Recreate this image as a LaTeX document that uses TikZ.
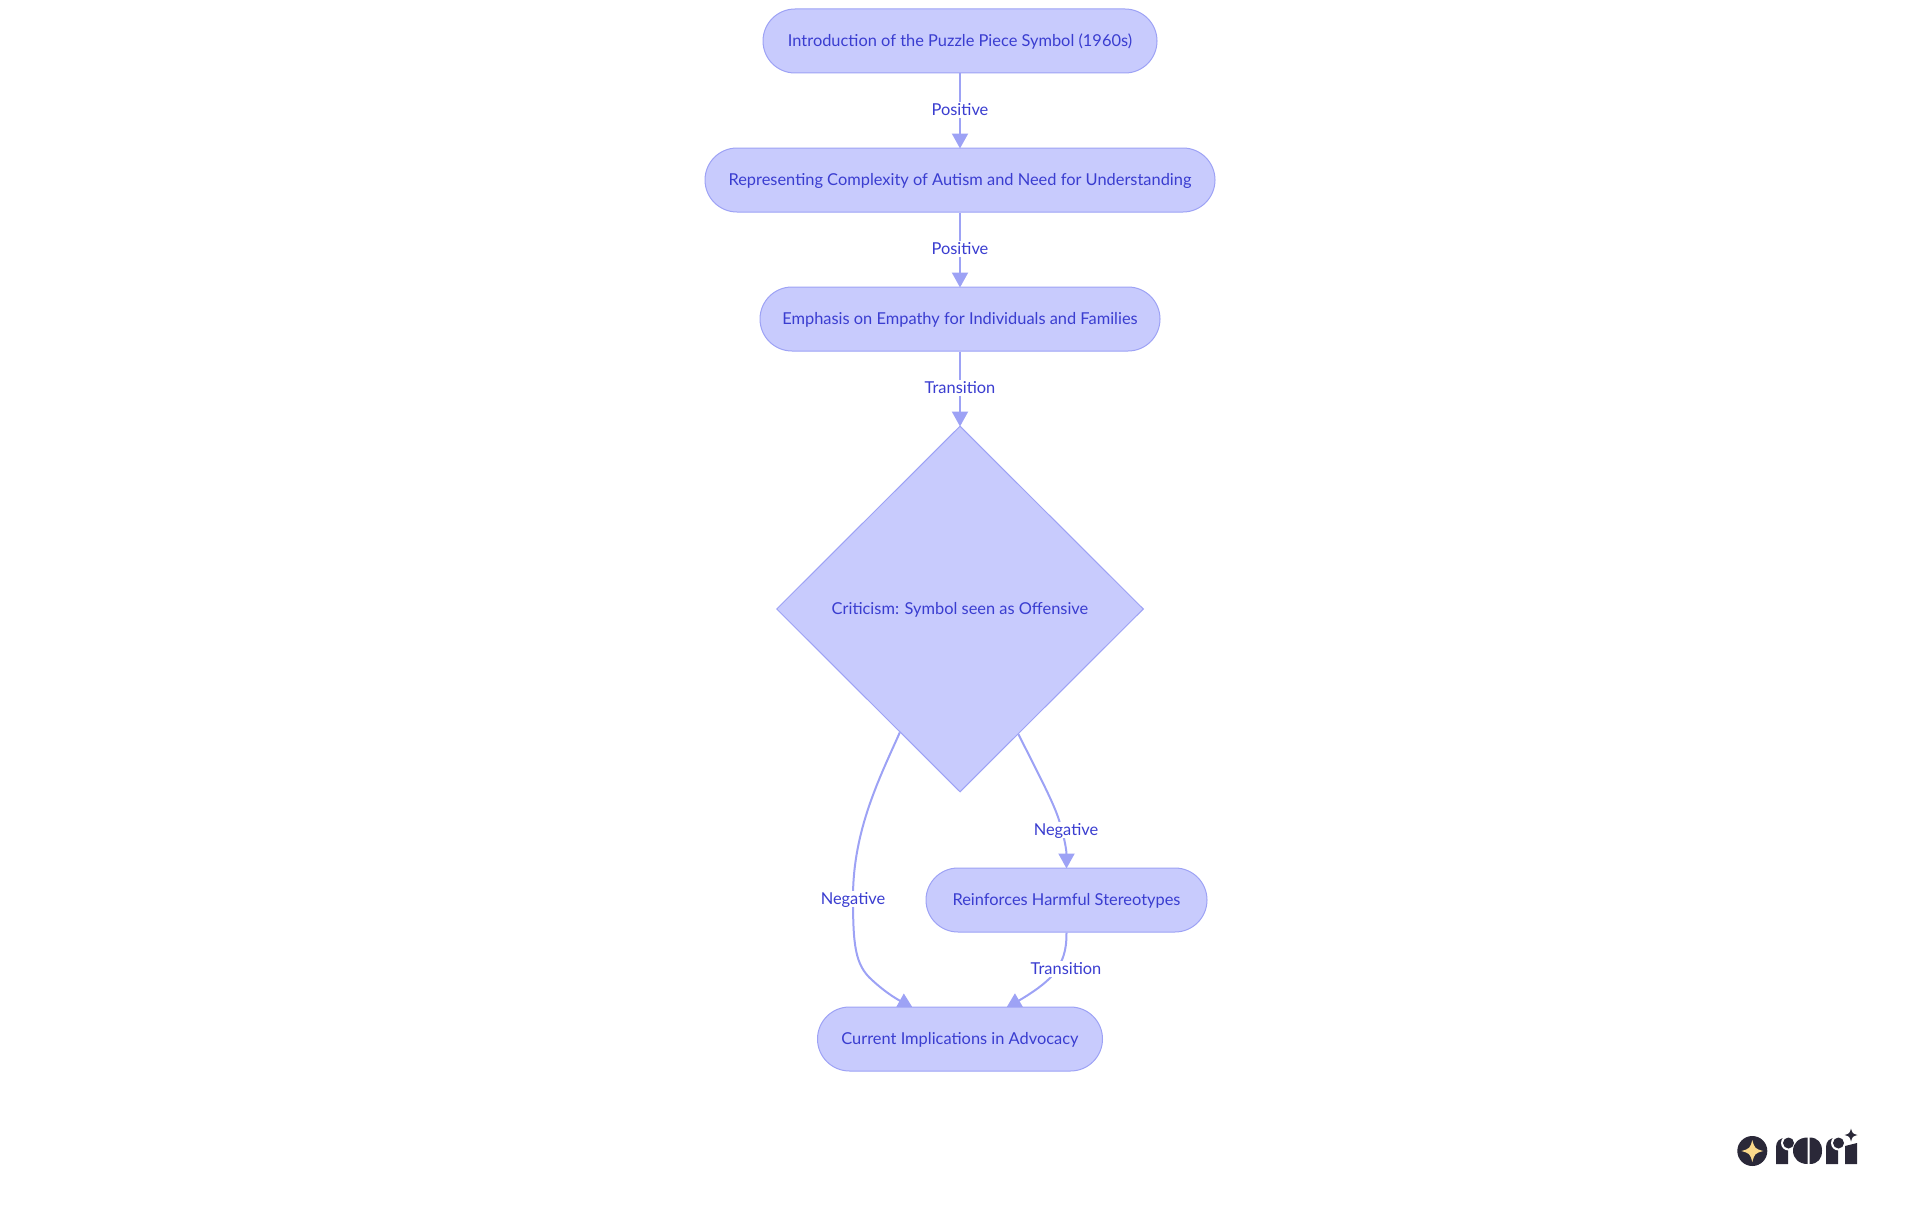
\documentclass[tikz,border=0pt]{standalone}
\usepackage{fontspec}
\setmainfont{Lato}
\usetikzlibrary{arrows.meta,shapes.geometric,backgrounds,calc}
\definecolor{nodefill}{HTML}{C8CBFD}
\definecolor{nodeline}{HTML}{9DA2F5}
\definecolor{nodetext}{HTML}{3A3DD0}
\definecolor{logodark}{HTML}{2A2838}
\definecolor{logostar}{HTML}{FBD98A}
\tikzset{
  x=1pt,y=-1pt,
  labelfont/.style={text=nodetext,font=\fontsize{16.4}{19}\selectfont,text height=15pt,text depth=3.6pt},
  pill/.style={draw=nodeline,fill=nodefill,line width=1pt,rounded corners=32pt,minimum height=64pt,inner sep=0pt,labelfont},
  decision/.style={diamond,draw=nodeline,fill=nodefill,line width=1pt,minimum width=367pt,minimum height=366pt,inner sep=0pt,labelfont},
  edgelabel/.style={fill=white,inner xsep=1pt,inner ysep=0pt,labelfont,text height=13.5pt,text depth=3pt},
  link/.style={draw=nodeline,line width=2pt,shorten >=-1pt,-{Triangle[length=15pt,width=16pt]}},
}
\newcommand{\fourstar}[4]{\fill[#4] (#1-#3,#2) .. controls (#1-#3*0.25,#2-#3*0.2) and (#1-#3*0.2,#2-#3*0.25) .. (#1,#2-#3) .. controls (#1+#3*0.2,#2-#3*0.25) and (#1+#3*0.25,#2-#3*0.2) .. (#1+#3,#2) .. controls (#1+#3*0.25,#2+#3*0.2) and (#1+#3*0.2,#2+#3*0.25) .. (#1,#2+#3) .. controls (#1-#3*0.2,#2+#3*0.25) and (#1-#3*0.25,#2+#3*0.2) .. (#1-#3,#2) -- cycle;}
\begin{document}
\begin{tikzpicture}
\useasboundingbox (0,0) rectangle (1920,1215);
\node[pill,minimum width=394pt] (intro) at (960,41) {Introduction of the Puzzle Piece Symbol (1960s)};
\node[pill,minimum width=510pt] (repr) at (960,180) {Representing Complexity of Autism and Need for Understanding};
\node[pill,minimum width=400pt] (emph) at (960,319) {Emphasis on Empathy for Individuals and Families};
\node[decision] (crit) at (960,609) {Criticism: Symbol seen as Offensive};
\node[pill,minimum width=281pt] (rein) at (1066.5,900) {Reinforces Harmful Stereotypes};
\node[pill,minimum width=285pt] (curr) at (960,1039) {Current Implications in Advocacy};
\node[edgelabel] (l1) at (960,110) {Positive};
\node[edgelabel] (l2) at (960,249) {Positive};
\node[edgelabel] (l3) at (960,388) {Transition};
\node[edgelabel] (l4) at (853,899) {Negative};
\node[edgelabel] (l5) at (1066,830) {Negative};
\node[edgelabel] (l6) at (1066,969) {Transition};
\begin{pgfonlayer}{background}
\draw[link] (intro.south) -- (repr.north);
\draw[link] (repr.south) -- (emph.north);
\draw[link] (emph.south) -- (crit.north);
\draw[link] (crit.244.4) .. controls (880,777) and (853,830) .. (853,897) .. controls (853,945) and (855,965) .. (872,980) .. controls (885,992) and (895,998) .. ($(curr.north)+(-48,1)$);
\draw[link] (crit.295.6) .. controls (1040,777) and (1052,800) .. (1058,817) .. controls (1064,835) and (1066.5,850) .. (rein.north);
\draw[link] (rein.south) .. controls (1066.5,950) and (1064,962) .. (1050,978) .. controls (1040,988) and (1025,997) .. ($(curr.north)+(47,1)$);
\end{pgfonlayer}
% logo
\fill[logodark] (1752.3,1151) circle (15);
\fourstar{1752.3}{1151}{11}{logostar}
\fill[logodark] (1776,1164) -- (1776,1147) .. controls (1776,1141) and (1780,1138) .. (1785,1138) -- (1788,1138) -- (1788,1164) -- cycle;
\fill[white] (1788.5,1143) circle (7.5);
\fill[logodark] (1788.5,1143) circle (5.5);
\fill[logodark] (1807.5,1164) -- (1807.5,1137.5) .. controls (1799,1137.5) and (1793,1143) .. (1793,1150.7) .. controls (1793,1158.5) and (1799,1164) .. (1807.5,1164) -- cycle;
\fill[logodark] (1809.5,1164) -- (1809.5,1137.5) .. controls (1818,1137.5) and (1822,1143) .. (1822,1150.7) .. controls (1822,1158.5) and (1818,1164) .. (1809.5,1164) -- cycle;
\fill[logodark] (1826,1164) -- (1826,1147) .. controls (1826,1141) and (1830,1138) .. (1835,1138) -- (1838,1138) -- (1838,1164) -- cycle;
\fill[white] (1838.5,1143) circle (7.5);
\fill[logodark] (1838.5,1143) circle (5.5);
\fill[logodark] (1845,1164) -- (1845,1146) -- (1857,1143) -- (1857,1164) -- cycle;
\fourstar{1851}{1135}{6.5}{logodark}
\end{tikzpicture}
\end{document}
